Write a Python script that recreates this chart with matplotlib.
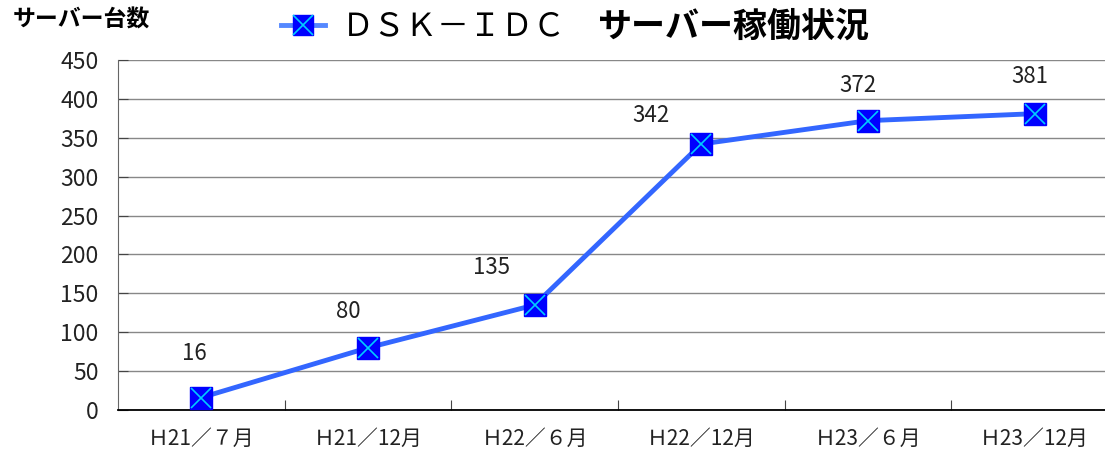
import matplotlib.pyplot as plt
from matplotlib.lines import Line2D

plt.rcParams['font.family'] = ['Noto Sans CJK JP', 'DejaVu Sans']

periods = ['Ｈ21／７月', 'Ｈ21／12月', 'Ｈ22／６月', 'Ｈ22／12月', 'Ｈ23／６月', 'Ｈ23／12月']
servers = [16, 80, 135, 342, 372, 381]
yticks = [0, 50, 100, 150, 200, 250, 300, 350, 400, 450]

# where each value label sits relative to its marker (pixels)
label_dx = [-7, -20, -43, -50, -10, -5]
label_dy = [44, 36, 37, 29, 35, 37]

W, H = 1105, 458
fig = plt.figure(figsize=(W / 100, H / 100), dpi=100)
# right edge of the plot area runs past the picture, as in the source
ax = fig.add_axes([118 / W, (H - 410) / H, 1000 / W, 350 / H])

x = list(range(len(servers)))
ax.plot(x, servers, color='#3366ff', lw=3.5, zorder=3)
ax.plot(x, servers, ls='none', marker='s', ms=16.5, mfc='#0000ff', mec='#0000ff', zorder=4)
ax.plot(x, servers, ls='none', marker='x', ms=15, mew=1.2, color='#00ccff', zorder=5)

for xi, v, dx, dy in zip(x, servers, label_dx, label_dy):
    ax.annotate(str(v), (xi, v), xytext=(dx * 0.72, dy * 0.72), textcoords='offset points',
                ha='center', va='center', fontsize=16, color='#222222')

ax.set_xlim(-0.5, len(servers) - 0.5)
ax.set_ylim(0, 450)
ax.set_yticks(yticks)
ax.set_yticklabels([str(t) for t in yticks], fontsize=16.5, color='#222222')
ax.yaxis.grid(True, color='#888888', lw=1)
ax.set_axisbelow(True)

ax.set_xticks([i + 0.5 for i in range(len(servers) - 1)])
ax.set_xticklabels([])
ax.set_xticks(x, minor=True)
ax.set_xticklabels(periods, minor=True, fontsize=15, color='#222222')
ax.tick_params(axis='x', which='major', direction='in', length=7, color='#444444')
ax.tick_params(axis='x', which='minor', length=0, pad=13)
ax.tick_params(axis='y', direction='in', length=7, color='#444444', pad=14)

for s in ['top', 'right']:
    ax.spines[s].set_visible(False)
ax.spines['left'].set_color('#666666')
ax.spines['bottom'].set_color('#000000')
ax.spines['bottom'].set_linewidth(1.3)

# legend-style title
fig.add_artist(Line2D([281 / W, 325 / W], [1 - 25 / H, 1 - 25 / H], color='#5588ff', lw=3.5))
fig.add_artist(Line2D([303 / W], [1 - 25 / H], ls='none', marker='s', ms=15,
                      mfc='#0000ff', mec='#0000ff'))
fig.add_artist(Line2D([303 / W], [1 - 25 / H], ls='none', marker='x', ms=14, mew=1.2,
                      color='#00ccff'))
fig.text(342 / W, 1 - 26 / H, 'ＤＳＫ－ＩＤＣ', fontsize=23, va='center', ha='left')
fig.text(598 / W, 1 - 26 / H, 'サーバー稼働状況', fontsize=24.5, fontweight='bold',
         va='center', ha='left')
fig.text(13 / W, 1 - 20 / H, 'サーバー台数', fontsize=16.5, fontweight='bold',
         va='center', ha='left')

fig.savefig('out.png', dpi=100)
